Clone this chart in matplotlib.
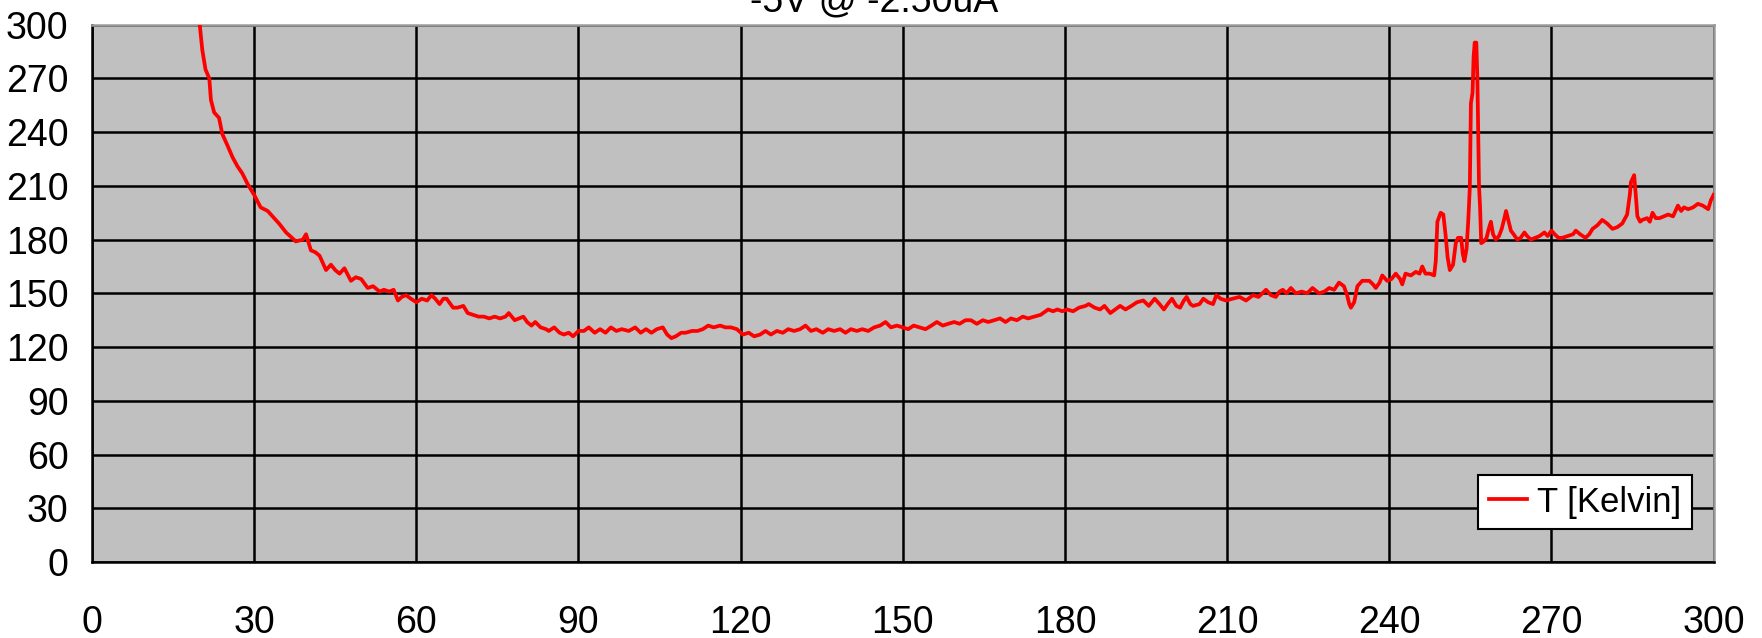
import matplotlib
matplotlib.use("Agg")
import matplotlib.pyplot as plt

plt.rcParams["font.family"] = ["Liberation Sans", "DejaVu Sans"]

title = "-5V @ -2.50uA"
series_label = "T [Kelvin]"
x_ticks = [0, 30, 60, 90, 120, 150, 180, 210, 240, 270, 300]
y_ticks = [0, 30, 60, 90, 120, 150, 180, 210, 240, 270, 300]

time_s = [19.9, 20.4, 21, 21.7, 22, 22.6, 23.5, 24.1, 25, 26, 26.9, 27.8, 28.8, 30,
          31.2, 32.5, 33.7, 34.6, 35.9, 37, 37.7, 39, 39.6, 40.5, 41.3, 42.1, 43.3,
          44.2, 45, 45.8, 46.7, 47.9, 48.8, 49.8, 51, 52, 53.2, 54, 55, 55.8, 56.6,
          57.3, 58.1, 59, 60, 61, 62, 62.8, 63.5, 64.3, 65, 65.6, 66.8, 67.6, 68.7,
          69.5, 70.5, 71.5, 72.5, 73.5, 74.5, 75.5, 76.5, 77.1, 78.2, 79, 79.8, 80.5,
          81.3, 82, 83, 84, 84.5, 85.5, 86.5, 87.3, 88.2, 89, 90, 91, 91.9, 93, 94,
          95, 96, 97, 98, 99.3, 100.5, 101.5, 102.5, 103.5, 104.5, 105.6, 106.4,
          107.2, 108, 109, 109.8, 111, 112, 113, 114, 115, 116.2, 117.2, 118.2,
          119.3, 120.4, 121.5, 122.5, 123.6, 124.6, 125.6, 126.7, 127.8, 128.8,
          129.9, 131, 132, 133, 134, 135.2, 136.2, 137.3, 138.4, 139.4, 140.4,
          141.5, 142.5, 143.6, 144.7, 145.8, 146.8, 147.8, 148.9, 150, 151, 152,
          153.1, 154.2, 155.3, 156.3, 157.4, 158.4, 159.5, 160.5, 161.6, 162.6,
          163.7, 164.8, 165.8, 166.9, 168, 169, 170, 171.1, 172.2, 173.2, 174.3,
          175.5, 176.9, 177.8, 178.6, 179.5, 180.4, 181.5, 182.6, 183.8, 184.4,
          185.5, 186.5, 187.3, 188.4, 189.3, 190.2, 191.2, 192.3, 193.3, 194.5,
          195.5, 196.6, 197.5, 198.3, 199, 199.8, 200.6, 201.3, 202, 202.5, 203.2,
          203.7, 204.9, 205.6, 206.5, 207.4, 208, 208.8, 209.8, 211, 212.3, 213.5,
          214.8, 215.8, 217.2, 218.1, 219, 219.7, 220.3, 221, 221.8, 222.7, 223.8,
          224.8, 225.8, 227, 228, 228.9, 229.8, 230.7, 231.6, 232.2, 232.6, 232.9,
          233.5, 234.1, 235, 236.3, 237, 237.5, 238.2, 238.7, 239.6, 240.4, 241.2,
          242, 242.4, 243, 244, 244.9, 245.6, 246.1, 246.7, 247.5, 248.3, 248.6,
          248.9, 249.5, 250, 250.4, 250.8, 251.2, 251.8, 252.3, 252.7, 253.3, 253.6,
          253.9, 254.3, 254.6, 254.9, 255.1, 255.4, 255.6, 255.8, 256.1, 256.3,
          256.4, 256.6, 256.8, 257, 257.5, 258, 258.4, 258.8, 259.2, 259.7, 260.3,
          260.8, 261.3, 261.6, 262, 262.5, 263, 263.7, 264.3, 265, 265.5, 266.2,
          267, 267.8, 268.7, 269.3, 270, 270.6, 271.3, 272, 273, 274, 274.5, 275.3,
          276.3, 277, 277.6, 278.5, 279.4, 280.3, 281.3, 282.2, 283.1, 284, 284.5,
          284.7, 285.3, 285.6, 285.9, 286.4, 286.8, 287.7, 288.2, 288.7, 289.3, 290,
          290.8, 291.6, 292.5, 293.4, 294, 294.5, 295.3, 296.2, 297.1, 298, 299,
          299.5, 300]

temp_k = [301, 286, 275, 270, 258, 251, 248, 239, 233, 226, 221, 217, 211, 205,
          198, 196, 192, 189, 184, 181, 179, 180, 183, 174, 173, 171, 163,
          166, 163, 161, 164, 157, 159, 158, 153, 154, 151, 152, 151, 152, 146,
          148, 149, 147, 145, 147, 146, 149, 147, 144, 147, 147, 142, 142, 143,
          139, 138, 137, 137, 136, 137, 136, 137, 139, 135, 136, 137, 134,
          132, 134, 131, 130, 129, 131, 128, 127, 128, 126, 129, 129, 131, 128, 130,
          128, 131, 129, 130, 129, 131, 128, 130, 128, 130, 131, 127,
          125, 126, 128, 128, 129, 129, 130, 132, 131, 132, 131, 131,
          130, 127, 128, 126, 127, 129, 127, 129, 128, 130,
          129, 130, 132, 129, 130, 128, 130, 129, 130, 128, 130,
          129, 130, 129, 131, 132, 134, 131, 132, 131, 130, 132,
          131, 130, 132, 134, 132, 133, 134, 133, 135, 135,
          133, 135, 134, 135, 136, 134, 136, 135, 137, 136, 137,
          138, 141, 140, 141, 140, 141, 140, 142, 143, 144,
          142, 141, 143, 139, 141, 143, 141, 143, 145, 146,
          143, 147, 144, 141, 144, 147, 143, 142, 146, 148, 144,
          143, 144, 147, 145, 144, 149, 147, 146, 147, 148, 146,
          149, 148, 152, 149, 148, 151, 152, 150, 153, 150, 151,
          150, 153, 150, 151, 153, 152, 156, 154, 149, 144, 142,
          145, 154, 157, 157, 155, 153, 156, 160, 157, 158, 161,
          158, 155, 161, 160, 162, 161, 165, 161, 161, 160, 168,
          190, 195, 194, 183, 170, 163, 166, 178, 181, 181, 172,
          168, 175, 190, 209, 256, 262, 282, 290, 290, 270,
          251, 210, 198, 178, 179, 181, 186, 190, 183, 180, 182,
          186, 192, 196, 191, 185, 183, 180, 181, 184, 182, 180,
          181, 182, 184, 182, 185, 183, 181, 181, 182, 183, 185, 183,
          181, 183, 186, 188, 191, 189, 186, 187, 189, 194, 205,
          212, 216, 205, 193, 190, 191, 192, 190, 195, 192, 192,
          193, 194, 193, 199, 196, 198, 197, 198, 200, 199, 197,
          202, 205]

fig = plt.figure(figsize=(17.62, 6.38), dpi=100)
ax = fig.add_axes([92 / 1762, 1 - 562 / 638, (1713.6 - 92) / 1762, (562 - 24.7) / 638])
ax.set_facecolor("#C0C0C0")
ax.plot(time_s, temp_k, color="#FF0000", linewidth=2.7, label=series_label, zorder=3)
ax.set_xlim(0, 300)
ax.set_ylim(0, 300)
ax.set_xticks(x_ticks)
ax.set_yticks(y_ticks)
ax.grid(True, color="black", linewidth=1.8, zorder=1)
ax.set_axisbelow(True)
ax.tick_params(axis="both", length=0, labelsize=27, labelcolor="black")
ax.tick_params(axis="y", pad=17)
ax.tick_params(axis="x", pad=31)
for side in ["left", "bottom"]:
    ax.spines[side].set_color("black")
    ax.spines[side].set_linewidth(1.8)
for side in ["top", "right"]:
    ax.spines[side].set_color("#9A9A9A")
    ax.spines[side].set_linewidth(1.8)

leg = ax.legend(loc="lower right", bbox_to_anchor=(0.9867, 0.0614), borderaxespad=0,
                fontsize=25, frameon=True, fancybox=False, handlelength=1.1,
                handletextpad=0.3, borderpad=0.3, edgecolor="black")
leg.get_frame().set_linewidth(1.5)
leg.get_frame().set_facecolor("white")
leg.get_frame().set_alpha(1)

fig.text(874 / 1762, 1 - 11.5 / 638, title, ha="center", va="baseline", fontsize=27)
fig.savefig("out.png", dpi=100, facecolor="white")
